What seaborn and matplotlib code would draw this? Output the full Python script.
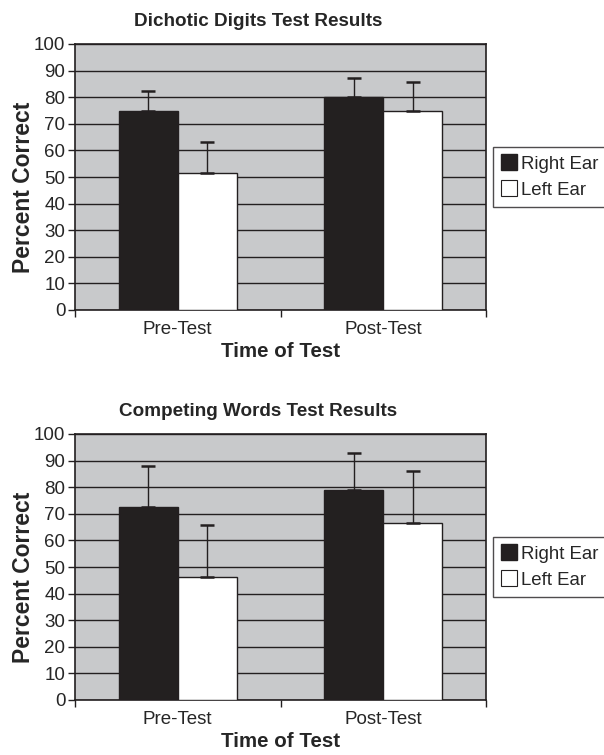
import numpy as np
import pandas as pd
import matplotlib
matplotlib.use("Agg")
import matplotlib.pyplot as plt
import seaborn as sns
from matplotlib.lines import Line2D

# values
times = ["Pre-Test", "Post-Test"]
ears = ["Right Ear", "Left Ear"]

digits_right = [75.0, 80.0]
digits_left = [51.5, 75.0]
digits_right_err = [7.2, 7.1]
digits_left_err = [11.5, 10.8]

words_right = [72.4, 78.8]
words_left = [46.4, 66.5]
words_right_err = [15.4, 14.2]
words_left_err = [19.4, 19.5]

sns.set_style("white")
plt.rcParams["font.family"] = ["Liberation Sans", "DejaVu Sans"]

BAR_DARK = "#231f20"
BG = "#c8c9cb"
palette = {"Right Ear": BAR_DARK, "Left Ear": "white"}


def draw_panel(ax, title, right, left, right_err, left_err):
    df = pd.DataFrame({
        "Time": times * 2,
        "Ear": [ears[0]] * 2 + [ears[1]] * 2,
        "Percent": right + left,
    })
    sns.barplot(data=df, x="Time", y="Percent", hue="Ear", order=times,
                hue_order=ears, palette=palette, width=0.575, gap=0,
                edgecolor="#231f20", linewidth=1.0, errorbar=None,
                legend=False, ax=ax, zorder=3)

    # one-sided error bars on top of the bars
    errs = right_err + left_err
    vals = right + left
    for patch, v, e in zip(ax.patches, vals, errs):
        xc = patch.get_x() + patch.get_width() / 2
        ax.errorbar(xc, v, yerr=[[0], [e]], fmt="none", ecolor="#231f20",
                    elinewidth=1.0, capsize=5, capthick=1.8, zorder=4)

    ax.set_facecolor(BG)
    ax.set_ylim(0, 100)
    ax.set_xlim(-0.5, 1.5)
    ax.set_yticks(np.arange(0, 101, 10))
    ax.yaxis.grid(True, color="#231f20", linewidth=1.0, zorder=1)
    ax.set_axisbelow(True)
    ax.tick_params(axis="y", direction="out", length=5, width=1,
                   color="#231f20", labelsize=13.5, left=True, pad=2)

    # x ticks at category boundaries, labels at centers
    ax.set_xticks([-0.5, 0.5, 1.5])
    ax.set_xticklabels([])
    ax.set_xticks([0, 1], minor=True)
    ax.set_xticklabels(times, minor=True)
    ax.tick_params(axis="x", which="major", direction="out", length=5,
                   width=1, color="#231f20", bottom=True)
    ax.tick_params(axis="x", which="minor", length=0, labelsize=13.5, pad=8)

    for s in ax.spines.values():
        s.set_visible(True)
        s.set_color("#231f20")
        s.set_linewidth(1.2)

    ax.set_title(title, fontsize=13.6, fontweight="bold", pad=13, x=0.446)
    ax.set_xlabel("Time of Test", fontsize=14.8, fontweight="bold", labelpad=3)
    ax.set_ylabel("Percent Correct", fontsize=16.5, fontweight="bold")
    ax.yaxis.set_label_coords(-0.098, 0.46)

    handles = [
        Line2D([], [], marker="s", linestyle="none", markersize=11,
               markerfacecolor=BAR_DARK, markeredgecolor=BAR_DARK),
        Line2D([], [], marker="s", linestyle="none", markersize=11,
               markerfacecolor="white", markeredgecolor="#231f20",
               markeredgewidth=0.8),
    ]
    leg = ax.legend(handles, ears, loc="upper left",
                    bbox_to_anchor=(1.017, 0.612), borderaxespad=0,
                    frameon=True, fancybox=False, fontsize=13.4,
                    handlelength=0.8, handletextpad=0.25,
                    borderpad=0.45, labelspacing=0.5)
    leg.get_frame().set_edgecolor("#231f20")
    leg.get_frame().set_linewidth(1.0)


fig = plt.figure(figsize=(6.04, 7.55), dpi=100)
ax1 = fig.add_axes([75 / 604, 1 - 310 / 755, 411 / 604, 266 / 755])
ax2 = fig.add_axes([75 / 604, 1 - 700 / 755, 411 / 604, 266 / 755])

draw_panel(ax1, "Dichotic Digits Test Results",
           digits_right, digits_left, digits_right_err, digits_left_err)
draw_panel(ax2, "Competing Words Test Results",
           words_right, words_left, words_right_err, words_left_err)

fig.savefig("out.png", dpi=100)
